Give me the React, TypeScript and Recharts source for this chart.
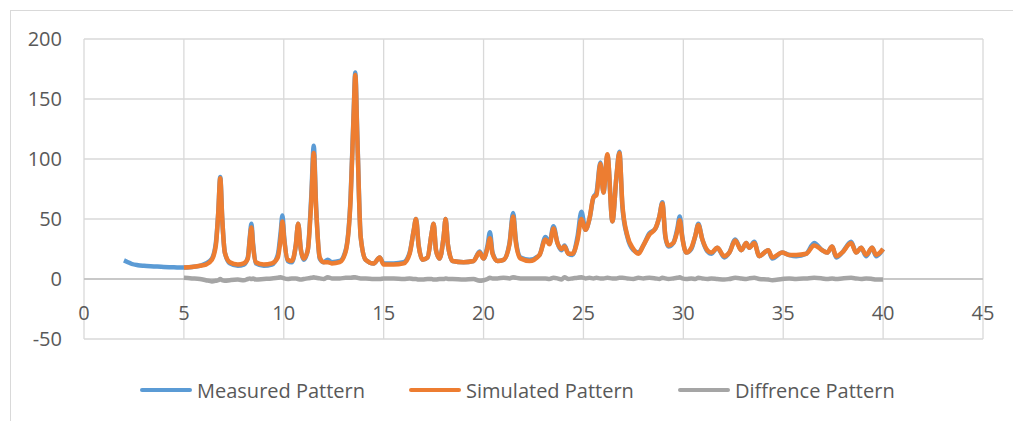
import React from "react";
import { CartesianGrid, Line, LineChart, ReferenceLine, XAxis, YAxis } from "recharts";

// 2-theta positions (deg)
const twoTheta = [
  2.0, 2.2, 2.4, 2.7, 3.0, 3.5, 4.0, 4.5, 4.9,
  5.0, 5.4, 5.8, 6.1, 6.4, 6.6, 6.72, 6.82, 6.92, 7.05, 7.3, 7.7, 8.0, 8.2, 8.3, 8.38, 8.46, 8.6,
  9.0, 9.4, 9.7, 9.85, 9.93, 10.02, 10.2, 10.4, 10.6, 10.72, 10.85, 11.0, 11.2, 11.38, 11.5, 11.62,
  11.8, 12.0, 12.2, 12.4, 12.8, 13.1, 13.35, 13.5, 13.58, 13.68, 13.85, 14.1, 14.5, 14.8, 15.0,
  15.5, 16.0, 16.3, 16.5, 16.62, 16.75, 16.95, 17.2, 17.4, 17.5, 17.62, 17.8, 18.0, 18.1, 18.22,
  18.45, 19.0, 19.5, 19.8, 20.0, 20.2, 20.32, 20.45, 20.7, 21.0, 21.3, 21.48, 21.62, 21.85, 22.3,
  22.8, 23.1, 23.3, 23.5, 23.7, 23.9, 24.05, 24.25, 24.45, 24.7, 24.9, 25.1, 25.3, 25.5, 25.65,
  25.85, 26.0, 26.2, 26.45, 26.65, 26.8, 26.95, 27.2, 27.5, 27.75, 28.0, 28.3, 28.6, 28.8, 28.95,
  29.1, 29.25, 29.5, 29.7, 29.82, 29.95, 30.15, 30.4, 30.6, 30.75, 30.95, 31.2, 31.4, 31.7, 32.05,
  32.3, 32.6, 32.9, 33.15, 33.3, 33.55, 33.8, 34.25, 34.45, 34.95, 35.3, 35.65, 36.15, 36.55, 36.95,
  37.2, 37.45, 37.65, 37.95, 38.4, 38.65, 38.9, 39.15, 39.45, 39.65, 40.0,
];

const measured = [
  15.5, 14, 12.5, 11.5, 11, 10.5, 10, 9.8, 9.5,
  9.5, 10, 11, 13, 17, 30, 55, 85, 50, 22, 13, 11, 12, 18, 35, 46, 30, 13,
  11, 12, 20, 40, 53, 35, 15, 14, 28, 46, 25, 16, 24, 70, 111, 60,
  17, 14, 16, 14, 15, 24, 70, 140, 172, 120, 35, 16, 13, 18, 13,
  13, 14, 22, 40, 50, 28, 16, 18, 38, 46, 24, 17, 35, 50, 28,
  15, 14, 15, 23, 17, 28, 39, 22, 15, 16, 30, 55, 32, 18, 16,
  20, 35, 30, 44, 30, 24, 28, 21, 20, 35, 56, 41, 50, 68, 72,
  97, 72, 103, 48, 85, 106, 60, 35, 24, 22, 28, 38, 42, 52, 64,
  35, 27, 30, 42, 52, 35, 22, 25, 36, 46, 33, 23, 21, 26, 18,
  22, 33, 24, 30, 26, 31, 19, 24, 17, 22, 20, 19, 21, 30, 24,
  22, 27, 18, 22, 31, 22, 26, 19, 26, 19, 25,
];

const simulated = [
  null, null, null, null, null, null, null, null, null,
  9.5, 10, 11, 12, 16, 28, 55, 84, 50, 22, 14, 12, 13, 17, 33, 43, 28, 14,
  12, 13, 18, 35, 48, 33, 16, 15, 28, 46, 25, 17, 24, 66, 105, 58,
  18, 14, 14, 13, 14, 23, 68, 138, 170, 118, 35, 16, 13, 18, 12,
  12, 13, 21, 40, 50, 28, 16, 18, 38, 46, 24, 17, 35, 50, 28,
  15, 14, 15, 22, 17, 26, 34, 21, 15, 16, 29, 52, 30, 17, 15,
  20, 33, 29, 42, 30, 25, 27, 21, 21, 32, 50, 41, 50, 68, 70,
  96, 72, 104, 48, 85, 105, 62, 36, 25, 21, 28, 37, 42, 52, 63,
  36, 28, 30, 40, 49, 34, 22, 26, 36, 45, 33, 24, 22, 26, 19,
  22, 32, 24, 30, 26, 30, 19, 24, 18, 22, 20, 20, 21, 28, 24,
  22, 27, 19, 22, 30, 22, 26, 20, 26, 20, 25,
];

const difference = [
  null, null, null, null, null, null, null, null, null,
  1, 0.5, 0, -1, -2, -1.5, -1, 0, -1, -1.5, -1, -0.5, -1, 0, 0.5, 0, 0.5, -0.5,
  0, 0.5, 1, 1.5, 1, 0.5, 0, 0.5, 0.5, 0, -0.5, 0, 0.5, 1, 1.5, 1,
  0.5, 0, 1.5, 0.5, 0.5, 1, 1, 1.5, 1.5, 1, 0.5, 0.5, 0, 0, 0.5,
  0.5, 0, 0.5, 0, 0, -0.5, -0.5, 0, 0, -0.5, -0.5, 0, 0, 0.5, 0,
  0, -0.5, 0, -1.5, -1, 0, 1, 0.5, 0.5, 1, 0.5, 1.5, 1, 0.5, 0.5,
  0.5, 0.5, 0, 1, 0.5, -0.5, 1.5, 0, 0.5, 1, 1.5, 0.5, 1, 0.5, 1,
  0.5, 0.5, 1, 0.5, 0.5, 1, 1, 0.5, 0, 1, 0.5, 1, 0.5, 0, 1,
  0.5, 0, 0.5, 1, 1.5, 0.5, 0, 0.5, 0, 1, 0.5, 0, 0.5, 0, -0.5,
  0, 1, 0.5, 0, 0.5, 1, 0, -0.5, -1, 0, 0.5, 0, 0.5, 1, 0.5,
  0, 0.5, 0, 0.5, 1, 0.5, 0, 0.5, 0, -0.5, -0.5,
];

const xTicks = [0, 5, 10, 15, 20, 25, 30, 35, 40, 45];
const yTicks = [-50, 0, 50, 100, 150, 200];

const seriesNames = ["Measured Pattern", "Simulated Pattern", "Diffrence Pattern"];
const seriesColors = ["#5b9bd5", "#ed7d31", "#a5a5a5"];

const data = twoTheta.map((x, i) => ({
  x,
  measured: measured[i],
  simulated: simulated[i],
  difference: difference[i],
}));

const font = "'Open Sans', 'Liberation Sans', sans-serif";
const textColor = "#595959";

function XTick(props: any) {
  const { x, y, payload } = props;
  return (
    <text x={x} y={y - 26} dy="0.35em" textAnchor="middle" fill={textColor} fontSize={20} fontFamily={font}>
      {payload.value}
    </text>
  );
}

export default function App() {
  return (
    <div style={{ position: "absolute", left: 0, top: 0, width: 1013, height: 421, overflow: "hidden", background: "#fff", fontFamily: font }}>
      <div style={{ position: "absolute", left: 10, top: 10, width: 1020, height: 430, border: "1px solid #d9d9d9" }} />
      <LineChart width={1013} height={421} data={data} margin={{ top: 39, right: 30, left: 0, bottom: 52 }}>
        <CartesianGrid stroke="#d9d9d9" strokeWidth={1.3} />
        <XAxis
          type="number"
          dataKey="x"
          domain={[0, 45]}
          ticks={xTicks}
          axisLine={false}
          tickLine={false}
          tickSize={0}
          tickMargin={0}
          height={30}
          tick={<XTick />}
          interval={0}
        />
        <YAxis
          domain={[-50, 200]}
          ticks={yTicks}
          width={84}
          axisLine={false}
          tickLine={false}
          tickMargin={16}
          tick={{ fill: textColor, fontSize: 20, fontFamily: font }}
          interval={0}
        />
        <ReferenceLine y={0} stroke="#bfbfbf" strokeWidth={1.5} />
        <Line dataKey="measured" type="monotone" stroke={seriesColors[0]} strokeWidth={4.5} dot={false} isAnimationActive={false} />
        <Line dataKey="simulated" type="monotone" stroke={seriesColors[1]} strokeWidth={4.5} dot={false} isAnimationActive={false} />
        <Line dataKey="difference" type="monotone" stroke={seriesColors[2]} strokeWidth={4.5} dot={false} isAnimationActive={false} />
      </LineChart>
      <div style={{ position: "absolute", left: 140, top: 376, display: "flex", alignItems: "center", height: 28 }}>
        {seriesNames.map((name, i) => (
          <div key={name} style={{ display: "flex", alignItems: "center", marginRight: i < 2 ? 44 : 0 }}>
            <div style={{ width: 52, height: 4, background: seriesColors[i], borderRadius: 2, marginRight: 5 }} />
            <span style={{ fontSize: 20, color: textColor, whiteSpace: "nowrap" }}>{name}</span>
          </div>
        ))}
      </div>
    </div>
  );
}
